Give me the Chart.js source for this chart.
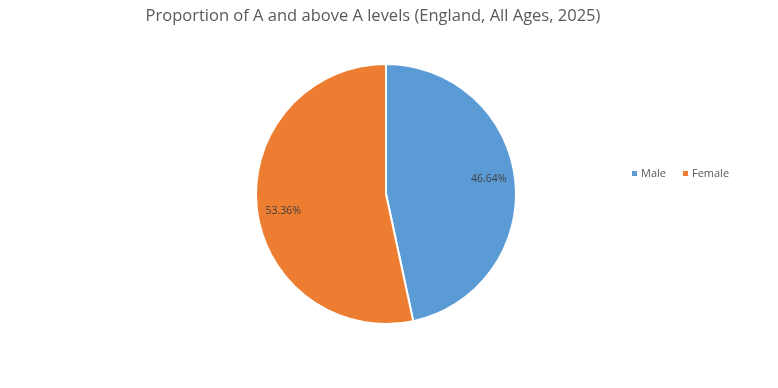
<!DOCTYPE html>
<html>
<head>
<meta charset="utf-8">
<script src="https://cdn.jsdelivr.net/npm/chart.js"></script>
<style>
  html, body { margin: 0; padding: 0; background: #fff; }
  #wrap { position: relative; width: 778px; height: 388px; }
</style>
</head>
<body>
<div id="wrap"><canvas id="pieChart" width="778" height="388"></canvas></div>
<script>
const chartTitle = 'Proportion of A and above A levels (England, All Ages, 2025)';
const labels = ['Male', 'Female'];
const values = [46.64, 53.36];
const colors = ['#5B9BD5', '#ED7D31'];

const FONT = '"Open Sans", "Liberation Sans", sans-serif';

// title, slice labels and right-hand legend drawn on the canvas
const extrasPlugin = {
  id: 'extras',
  afterDatasetsDraw(chart) {
    const ctx = chart.ctx;
    const meta = chart.getDatasetMeta(0);
    ctx.save();
    ctx.font = '10.5px ' + FONT;
    ctx.fillStyle = '#404040';
    ctx.textAlign = 'center';
    ctx.textBaseline = 'middle';
    meta.data.forEach((arc, i) => {
      const p = arc.getProps(['x', 'y', 'startAngle', 'endAngle', 'outerRadius'], true);
      const mid = (p.startAngle + p.endAngle) / 2 - 0.05;
      const d = p.outerRadius * 0.8;
      ctx.fillText(values[i].toFixed(2) + '%', p.x + Math.cos(mid) * d, p.y + Math.sin(mid) * d + 1);
    });
    ctx.restore();
  },
  afterDraw(chart) {
    const ctx = chart.ctx;
    ctx.save();
    ctx.font = '16.5px ' + FONT;
    ctx.fillStyle = '#595959';
    ctx.textAlign = 'center';
    ctx.textBaseline = 'middle';
    ctx.fillText(chartTitle, 373, 16);

    ctx.font = '11px ' + FONT;
    ctx.textAlign = 'left';
    let x = 632;
    const y = 174;
    labels.forEach((lab, i) => {
      ctx.fillStyle = colors[i];
      ctx.fillRect(x, y - 3, 5, 5);
      ctx.fillStyle = '#595959';
      ctx.fillText(lab, x + 9, y);
      x += 9 + ctx.measureText(lab).width + 17;
    });
    ctx.restore();
  }
};

new Chart(document.getElementById('pieChart'), {
  type: 'pie',
  data: {
    labels: labels,
    datasets: [{
      data: values,
      backgroundColor: colors,
      borderColor: '#ffffff',
      borderWidth: 2
    }]
  },
  options: {
    responsive: false,
    animation: false,
    layout: { padding: { left: 255, right: 261, top: 63, bottom: 63 } },
    plugins: {
      legend: { display: false },
      title: { display: false },
      tooltip: { enabled: false }
    }
  },
  plugins: [extrasPlugin]
});
</script>
</body>
</html>
